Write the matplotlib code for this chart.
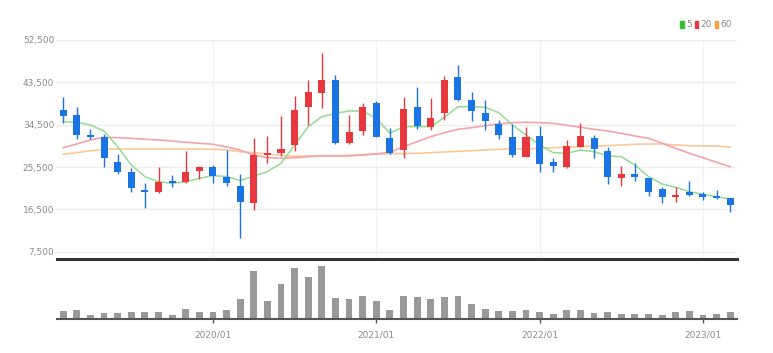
import matplotlib
matplotlib.use("Agg")
import matplotlib.pyplot as plt
from matplotlib.patches import Patch
import numpy as np

# monthly candles 2019/02 .. 2023/03
months = ["%d/%02d" % (2019 + (m - 1) // 12, (m - 1) % 12 + 1) for m in range(2, 52)]

opens = [37600, 36500, 32250, 31820, 26630, 24510, 20620, 20260, 22600, 22250,
         24660, 25570, 23450, 21530, 17790, 28120, 28420, 30180, 38330, 41300,
         44000, 30550, 33220, 39050, 31610, 29120, 38200, 33950, 36920, 44700,
         39750, 37050, 34650, 31950, 27700, 32100, 26630, 25440, 29820, 31610,
         28970, 23100, 23960, 23100, 20770, 19070, 20130, 19770, 19410, 18850]
highs = [40450, 38330, 33590, 32520, 28270, 25230, 22040, 25570, 23810, 28970,
         25700, 25930, 29120, 24020, 31610, 32100, 36350, 40670, 44000, 49800,
         45070, 36560, 39180, 39600, 33730, 40450, 42450, 40110, 44850, 47190,
         41520, 39750, 35500, 34590, 34080, 34220, 27480, 31250, 34800, 32310,
         29820, 25720, 26420, 23230, 21320, 21320, 22600, 20260, 20620, 18980]
lows = [34900, 31400, 31460, 25440, 24020, 20130, 16730, 20040, 21320, 22040,
        22960, 22170, 21470, 10350, 16370, 26420, 27850, 28970, 34440, 37990,
        30400, 30400, 32310, 31800, 28270, 27480, 33590, 33370, 35500, 39600,
        35350, 33370, 31460, 27700, 27600, 24510, 24510, 25230, 29700, 27480,
        21830, 21530, 22530, 19410, 17790, 18000, 19410, 18490, 18640, 15880]
closes = [36350, 32310, 31820, 27360, 24510, 21100, 20130, 22380, 22040, 24510,
          25570, 23660, 22040, 18000, 28060, 28550, 29330, 37560, 41390, 44000,
          30550, 33010, 38330, 31950, 28420, 37840, 34290, 35990, 44000, 39750,
          37410, 35350, 32250, 28120, 31820, 26080, 25720, 29970, 32100, 29330,
          23320, 24020, 23450, 20260, 19070, 19550, 19550, 19190, 18980, 17430]

ma5 = [35140, 35010, 34440, 33160, 29820, 25930, 23450, 22380, 22040, 22380,
       23100, 23660, 23490, 22600, 23590, 24510, 26290, 30180, 34080, 36200,
       36920, 37410, 37410, 35860, 32670, 34080, 34080, 34080, 36070, 38330,
       38330, 38200, 37050, 34440, 32310, 30180, 28550, 28420, 29120, 28760,
       27850, 27700, 25930, 23450, 21890, 21190, 20260, 19700, 19190, 18700]
ma20 = [29610, 30400, 31250, 31820, 31740, 31610, 31400, 31250, 31030, 30760,
        30550, 30330, 29760, 29120, 28060, 27480, 27360, 27480, 27700, 27850,
        27850, 27850, 28060, 28270, 28650, 29820, 30890, 31950, 32800, 33520,
        33860, 34290, 34650, 34930, 35010, 34930, 34800, 34370, 33950, 33520,
        33160, 32670, 32100, 31610, 30550, 29480, 28420, 27480, 26510, 25570]
ma60 = [28210, 28550, 28970, 29270, 29330, 29330, 29330, 29330, 29330, 29330,
        29330, 29270, 29120, 28760, 28550, 28270, 27950, 27800, 27850, 27910,
        27910, 28000, 28120, 28270, 28330, 28330, 28420, 28550, 28700, 28840,
        28970, 29120, 29270, 29330, 29330, 29480, 29610, 29700, 29820, 29970,
        30040, 30180, 30330, 30400, 30400, 30180, 30040, 29970, 29970, 29700]

# volume, thousand shares
volumes = [260, 280, 130, 180, 180, 210, 210, 230, 130, 310,
           210, 210, 280, 610, 1450, 560, 1060, 1550, 1260, 1600,
           650, 600, 710, 550, 280, 700, 660, 600, 660, 700,
           450, 300, 250, 250, 280, 220, 160, 270, 270, 180,
           210, 160, 160, 160, 120, 220, 250, 120, 160, 210]

price_ticks = [7500, 16500, 25500, 34500, 43500, 52500]
date_ticks = ["2020/01", "2021/01", "2022/01", "2023/01"]

RED = "#e8383d"
BLUE = "#1b74e4"
C_MA5 = "#93dc8f"
C_MA20 = "#f5a3ab"
C_MA60 = "#fbc898"
TXT = "#8a8a8a"

plt.rcParams['font.family'] = ['Liberation Sans Narrow', 'DejaVu Sans']

fig = plt.figure(figsize=(7.73, 3.53), dpi=100)
ax = fig.add_axes([0.0737, 0.2663, 0.8797, 0.6204])
axv = fig.add_axes([0.0737, 0.0955, 0.8797, 0.1623], sharex=ax)

x = np.arange(len(months))
o = np.array(opens); h = np.array(highs); l = np.array(lows); c = np.array(closes)
up = c >= o
cols = np.where(up, RED, BLUE)

# grid
for t in price_ticks:
    ax.axhline(t, color="#ececec", lw=0.9, zorder=0)
tick_idx = [months.index(d) for d in date_ticks]
for i in tick_idx:
    ax.axvline(i, color="#f1f1f1", lw=0.9, zorder=0)

# moving averages
ax.plot(x, ma60, color=C_MA60, lw=1.2, zorder=1)
ax.plot(x, ma20, color=C_MA20, lw=1.2, zorder=1)
ax.plot(x, ma5, color=C_MA5, lw=1.1, zorder=1)

# candles
ax.vlines(x, l, h, colors=cols, lw=1.0, zorder=2)
body_lo = np.minimum(o, c)
body_h = np.maximum(np.abs(c - o), 120)
ax.bar(x, body_h, bottom=body_lo, width=0.52, color=cols, zorder=3)

ax.set_xlim(-0.46, 49.5)
ax.set_ylim(5950, 52500)
ax.set_yticks(price_ticks)
ax.set_yticklabels(["{:,}".format(t) for t in price_ticks])
ax.tick_params(axis='y', length=0, pad=2, labelsize=6.5, labelcolor=TXT)
ax.tick_params(axis='x', length=0, labelbottom=False)
for s in ["top", "right", "left"]:
    ax.spines[s].set_visible(False)
ax.spines["bottom"].set_color("#333333")
ax.spines["bottom"].set_linewidth(2.2)

# volume
axv.bar(x, volumes, width=0.5, color="#999999", zorder=2)
axv.set_ylim(0, 1720)
axv.set_yticks([])
axv.set_xticks(tick_idx)
axv.set_xticklabels(date_ticks)
axv.tick_params(axis='x', length=3, width=1, color="#555555", pad=5,
                labelsize=6.5, labelcolor=TXT)
for s in ["top", "right", "left"]:
    axv.spines[s].set_visible(False)
axv.spines["bottom"].set_color("#555555")
axv.spines["bottom"].set_linewidth(1.5)

handles = [Patch(color="#33c033"), Patch(color=RED), Patch(color="#f5a040")]
fig.legend(handles, ["5", "20", "60"], loc="upper right",
           bbox_to_anchor=(0.957, 0.965), ncol=3, frameon=False,
           handlelength=0.35, handleheight=0.9, handletextpad=0.25,
           columnspacing=0.35, fontsize=6.5, labelcolor=TXT)

fig.savefig("out.png", dpi=100, facecolor="white")
